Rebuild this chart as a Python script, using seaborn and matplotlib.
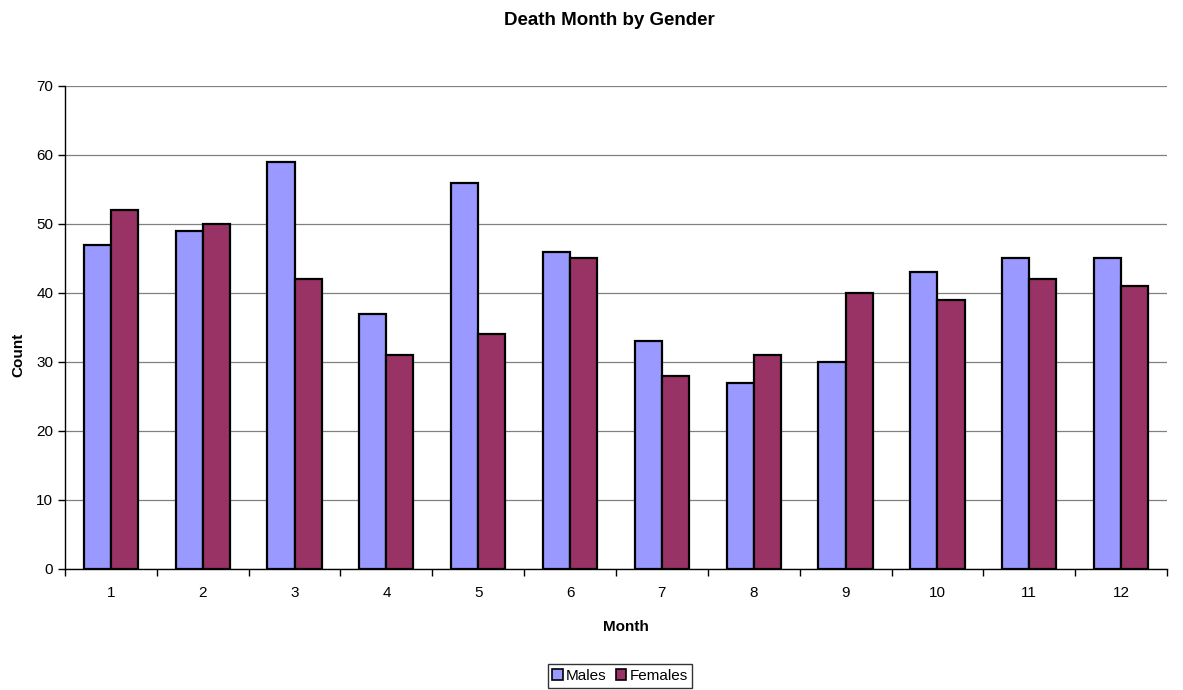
import matplotlib
matplotlib.use("Agg")
import matplotlib.pyplot as plt
import seaborn as sns
import pandas as pd

# Data
months = [1, 2, 3, 4, 5, 6, 7, 8, 9, 10, 11, 12]
males = [47, 49, 59, 37, 56, 46, 33, 27, 30, 43, 45, 45]
females = [52, 50, 42, 31, 34, 45, 28, 31, 40, 39, 42, 41]

df = pd.DataFrame({
    "Month": months * 2,
    "Count": males + females,
    "Gender": ["Males"] * len(months) + ["Females"] * len(months),
})

sns.set_style("white")
plt.rcParams["font.family"] = ["Liberation Sans", "DejaVu Sans"]
plt.rcParams["text.color"] = "black"
plt.rcParams["axes.labelcolor"] = "black"
plt.rcParams["xtick.color"] = "black"
plt.rcParams["ytick.color"] = "black"

fig = plt.figure(figsize=(11.83, 6.9), dpi=100)
ax = fig.add_axes([0.0549, 0.1754, 0.9316, 0.70])

sns.barplot(data=df, x="Month", y="Count", hue="Gender",
            palette={"Males": "#9999FF", "Females": "#993366"}, saturation=1,
            width=0.59, edgecolor="black", linewidth=1.6, ax=ax, legend=False)

ax.set_ylim(0, 70)
ax.set_xlim(-0.5, 11.5)
ax.set_yticks(range(0, 71, 10))
ax.yaxis.grid(True, color="#808080", linewidth=0.9)
ax.set_axisbelow(True)

# category boundaries get tick marks, labels stay centered
ax.set_xticks([i - 0.5 for i in range(13)], minor=True)
ax.tick_params(axis="x", which="major", length=0, pad=12, labelsize=11)
ax.tick_params(axis="x", which="minor", length=5, direction="out", width=1, color="black")
ax.tick_params(axis="y", length=5, direction="out", width=1, color="black", labelsize=11)
ax.xaxis.set_ticks_position("bottom")
ax.yaxis.set_ticks_position("left")

for s in ["top", "right"]:
    ax.spines[s].set_visible(False)
for s in ["left", "bottom"]:
    ax.spines[s].set_color("black")
    ax.spines[s].set_linewidth(1)

ax.set_xlabel("Month", fontsize=11, fontweight="bold")
ax.set_ylabel("Count", fontsize=11, fontweight="bold")
ax.xaxis.set_label_coords((626 - 65) / 1102, -0.105)
ax.yaxis.set_label_coords(-0.036, (569 - 355) / 483)
fig.suptitle("Death Month by Gender", x=609 / 1183, fontsize=13.5, fontweight="bold", y=0.982)

handles = [plt.Rectangle((0, 0), 1, 1, facecolor="#9999FF", edgecolor="black", linewidth=1.2),
           plt.Rectangle((0, 0), 1, 1, facecolor="#993366", edgecolor="black", linewidth=1.2)]
leg = fig.legend(handles, ["Males", "Females"], loc="center", ncol=2,
                 bbox_to_anchor=(620 / 1183, 1 - 676 / 690), fontsize=11,
                 frameon=True, fancybox=False, handlelength=0.7, handleheight=0.7,
                 handletextpad=0.2, columnspacing=0.6, borderpad=0.3)
leg.get_frame().set_edgecolor("black")
leg.get_frame().set_linewidth(1)

plt.savefig("out.png", dpi=100)
